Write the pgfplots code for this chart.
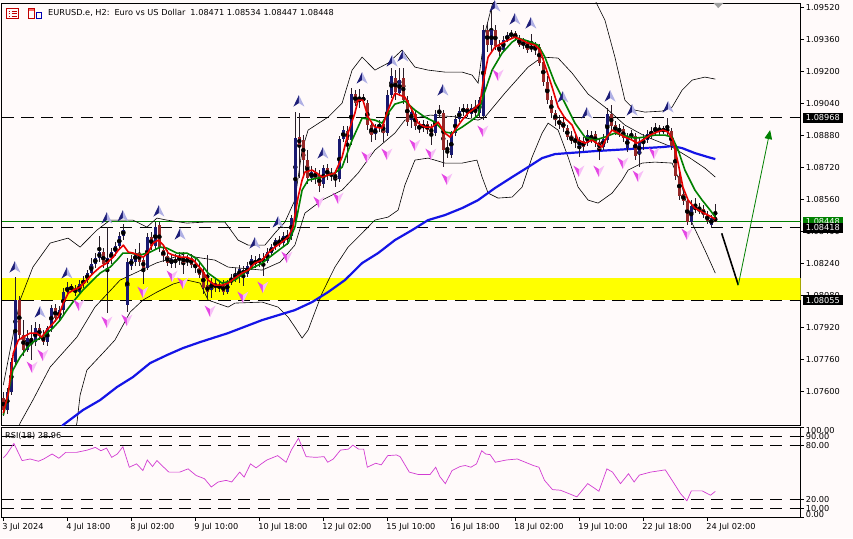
\documentclass[border=0pt]{standalone}
\usepackage{fontspec}
\setmainfont{DejaVu Sans}
\usepackage{pgfplots}
\usepackage{pgfplotstable}
\pgfplotsset{compat=1.18}
\usetikzlibrary{arrows.meta}

\definecolor{bg}{RGB}{255,250,250}
\definecolor{bullc}{RGB}{25,25,112}
\definecolor{bearc}{RGB}{150,40,40}
\definecolor{wickc}{RGB}{40,30,40}
\definecolor{mared}{RGB}{232,0,0}
\definecolor{magreen}{RGB}{0,128,0}
\definecolor{mablue}{RGB}{20,20,230}
\definecolor{rsic}{RGB}{210,60,210}
\definecolor{upL}{RGB}{30,30,120}
\definecolor{upR}{RGB}{175,175,228}
\definecolor{dnL}{RGB}{228,70,228}
\definecolor{dnR}{RGB}{247,190,247}
\definecolor{ylw}{RGB}{255,255,0}

\pgfdeclareplotmark{fup}{%
  \pgfpathmoveto{\pgfqpoint{0pt}{6pt}}\pgfpathlineto{\pgfqpoint{-5.5pt}{-5.5pt}}\pgfpathlineto{\pgfqpoint{0pt}{-2pt}}\pgfpathclose
  \pgfsetfillcolor{upL}\pgfusepath{fill}
  \pgfpathmoveto{\pgfqpoint{0pt}{6pt}}\pgfpathlineto{\pgfqpoint{5.5pt}{-5.5pt}}\pgfpathlineto{\pgfqpoint{0pt}{-2pt}}\pgfpathclose
  \pgfsetfillcolor{upR}\pgfusepath{fill}}
\pgfdeclareplotmark{fdn}{%
  \pgfpathmoveto{\pgfqpoint{0pt}{-6pt}}\pgfpathlineto{\pgfqpoint{-5.5pt}{5.5pt}}\pgfpathlineto{\pgfqpoint{0pt}{2pt}}\pgfpathclose
  \pgfsetfillcolor{dnL}\pgfusepath{fill}
  \pgfpathmoveto{\pgfqpoint{0pt}{-6pt}}\pgfpathlineto{\pgfqpoint{5.5pt}{5.5pt}}\pgfpathlineto{\pgfqpoint{0pt}{2pt}}\pgfpathclose
  \pgfsetfillcolor{dnR}\pgfusepath{fill}}

\pgfplotstableread{
i o h l c
0 1.07566 1.07596 1.07476 1.07506
1 1.07506 1.07616 1.07486 1.07596
2 1.07596 1.07766 1.07581 1.07746
3 1.07746 1.08171 1.07726 1.08056
4 1.08056 1.08076 1.07856 1.07881
5 1.07881 1.07956 1.07776 1.07806
6 1.07806 1.07906 1.07796 1.07866
7 1.07866 1.07931 1.07756 1.07846
8 1.07846 1.07946 1.07826 1.07916
9 1.07916 1.07936 1.07856 1.07876
10 1.07876 1.07906 1.07831 1.07846
11 1.07846 1.07926 1.07826 1.07916
12 1.07916 1.08031 1.07896 1.08016
13 1.08016 1.08036 1.07946 1.07966
14 1.07966 1.08026 1.07946 1.08006
15 1.08006 1.08116 1.07986 1.08096
16 1.08096 1.08146 1.08076 1.08121
17 1.08121 1.08136 1.08096 1.08111
18 1.08111 1.08131 1.08076 1.08096
19 1.08096 1.08156 1.08081 1.08136
20 1.08136 1.08176 1.08116 1.08156
21 1.08156 1.08206 1.08141 1.08191
22 1.08191 1.08266 1.08176 1.08236
23 1.08236 1.08291 1.08216 1.08266
24 1.08266 1.08376 1.08246 1.08296
25 1.08296 1.08316 1.08216 1.08236
26 1.08236 1.08421 1.07991 1.08266
27 1.08266 1.08316 1.08236 1.08296
28 1.08296 1.08346 1.08276 1.08326
29 1.08326 1.08396 1.08306 1.08376
30 1.08376 1.08436 1.08356 1.08406
31 1.08031 1.08266 1.07996 1.08246
32 1.08226 1.08281 1.08206 1.08261
33 1.08246 1.08311 1.08226 1.08291
34 1.08291 1.08341 1.08226 1.08246
35 1.08256 1.08276 1.08136 1.08216
36 1.08216 1.08391 1.08206 1.08371
37 1.08371 1.08396 1.08306 1.08326
38 1.08326 1.08446 1.08306 1.08421
39 1.08431 1.08446 1.08296 1.08316
40 1.08306 1.08326 1.08246 1.08276
41 1.08276 1.08306 1.08226 1.08241
42 1.08236 1.08286 1.08216 1.08261
43 1.08261 1.08286 1.08216 1.08241
44 1.08256 1.08296 1.08231 1.08271
45 1.08271 1.08296 1.08186 1.08241
46 1.08246 1.08281 1.08226 1.08266
47 1.08266 1.08286 1.08216 1.08231
48 1.08236 1.08266 1.08191 1.08216
49 1.08216 1.08246 1.08166 1.08181
50 1.08196 1.08226 1.08086 1.08116
51 1.08131 1.08281 1.08066 1.08096
52 1.08106 1.08166 1.08066 1.08146
53 1.08141 1.08161 1.08096 1.08116
54 1.08116 1.08151 1.08096 1.08131
55 1.08131 1.08156 1.08081 1.08096
56 1.08096 1.08156 1.08086 1.08146
57 1.08146 1.08186 1.08131 1.08161
58 1.08161 1.08216 1.08146 1.08186
59 1.08176 1.08231 1.08141 1.08211
60 1.08206 1.08226 1.08126 1.08186
61 1.08186 1.08246 1.08171 1.08226
62 1.08221 1.08281 1.08206 1.08261
63 1.08256 1.08276 1.08216 1.08236
64 1.08241 1.08286 1.08221 1.08266
65 1.08266 1.08291 1.08176 1.08246
66 1.08251 1.08316 1.08241 1.08296
67 1.08291 1.08336 1.08276 1.08321
68 1.08321 1.08366 1.08306 1.08356
69 1.08351 1.08376 1.08321 1.08336
70 1.08341 1.08396 1.08326 1.08376
71 1.08376 1.08406 1.08331 1.08366
72 1.08376 1.08481 1.08356 1.08466
73 1.08456 1.08996 1.08446 1.08866
74 1.08871 1.08991 1.08666 1.08831
75 1.08856 1.08881 1.08681 1.08756
76 1.08756 1.08806 1.08636 1.08666
77 1.08666 1.08726 1.08646 1.08696
78 1.08696 1.08716 1.08636 1.08666
79 1.08681 1.08706 1.08596 1.08626
80 1.08636 1.08731 1.08616 1.08716
81 1.08716 1.08736 1.08656 1.08676
82 1.08676 1.08716 1.08651 1.08691
83 1.08686 1.08706 1.08621 1.08661
84 1.08661 1.08876 1.08646 1.08861
85 1.08861 1.08926 1.08846 1.08906
86 1.08901 1.08926 1.08741 1.08856
87 1.08856 1.09116 1.08831 1.09086
88 1.09086 1.09106 1.09026 1.09041
89 1.09046 1.09111 1.09016 1.09066
90 1.09066 1.09086 1.09036 1.09056
91 1.09041 1.09056 1.08906 1.08931
92 1.08931 1.08946 1.08846 1.08881
93 1.08886 1.08936 1.08856 1.08916
94 1.08916 1.08956 1.08896 1.08936
95 1.08936 1.08956 1.08846 1.08891
96 1.08891 1.09106 1.08876 1.09081
97 1.09081 1.09216 1.09066 1.09176
98 1.09166 1.09206 1.09056 1.09096
99 1.09091 1.09216 1.09076 1.09156
100 1.09166 1.09216 1.09036 1.09056
101 1.09056 1.09076 1.08926 1.08946
102 1.08956 1.09026 1.08916 1.08996
103 1.08986 1.09006 1.08906 1.08926
104 1.08926 1.08951 1.08891 1.08911
105 1.08916 1.08956 1.08896 1.08936
106 1.08936 1.08951 1.08886 1.08906
107 1.08916 1.08936 1.08831 1.08891
108 1.08891 1.09006 1.08876 1.08986
109 1.08986 1.09031 1.08966 1.09006
110 1.08991 1.09006 1.08721 1.08806
111 1.08806 1.08856 1.08766 1.08791
112 1.08781 1.08901 1.08766 1.08891
113 1.08891 1.08981 1.08876 1.08961
114 1.08961 1.09021 1.08946 1.09001
115 1.08996 1.09036 1.08976 1.09016
116 1.09016 1.09036 1.08971 1.08986
117 1.08986 1.09036 1.08966 1.09016
118 1.09016 1.09056 1.08971 1.08991
119 1.08991 1.09071 1.08966 1.09056
120 1.08976 1.09431 1.08956 1.09406
121 1.09406 1.09446 1.09296 1.09331
122 1.09331 1.09516 1.09296 1.09406
123 1.09406 1.09431 1.09306 1.09326
124 1.09326 1.09356 1.09276 1.09296
125 1.09306 1.09376 1.09296 1.09356
126 1.09356 1.09396 1.09346 1.09381
127 1.09376 1.09406 1.09361 1.09391
128 1.09391 1.09401 1.09351 1.09366
129 1.09366 1.09381 1.09321 1.09331
130 1.09331 1.09366 1.09311 1.09346
131 1.09346 1.09356 1.09291 1.09306
132 1.09311 1.09386 1.09296 1.09326
133 1.09326 1.09346 1.09281 1.09316
134 1.09321 1.09336 1.09226 1.09241
135 1.09246 1.09266 1.09126 1.09146
136 1.09146 1.09176 1.09036 1.09056
137 1.09056 1.09076 1.08966 1.08991
138 1.08991 1.09006 1.08926 1.08956
139 1.08956 1.08981 1.08911 1.08931
140 1.08946 1.08966 1.08896 1.08916
141 1.08916 1.08931 1.08856 1.08871
142 1.08876 1.08901 1.08836 1.08851
143 1.08866 1.08886 1.08816 1.08841
144 1.08826 1.08871 1.08771 1.08856
145 1.08851 1.08871 1.08801 1.08821
146 1.08841 1.08906 1.08826 1.08881
147 1.08876 1.08901 1.08841 1.08861
148 1.08886 1.08901 1.08821 1.08841
149 1.08846 1.08866 1.08756 1.08811
150 1.08821 1.08886 1.08806 1.08861
151 1.08856 1.09016 1.08841 1.08986
152 1.08986 1.09031 1.08906 1.08926
153 1.08931 1.08951 1.08881 1.08896
154 1.08896 1.08936 1.08871 1.08916
155 1.08911 1.08926 1.08846 1.08866
156 1.08816 1.08891 1.08796 1.08871
157 1.08871 1.08906 1.08856 1.08881
158 1.08876 1.08891 1.08756 1.08776
159 1.08786 1.08866 1.08721 1.08846
160 1.08841 1.08886 1.08806 1.08861
161 1.08856 1.08906 1.08841 1.08886
162 1.08886 1.08921 1.08861 1.08896
163 1.08896 1.08941 1.08881 1.08916
164 1.08916 1.08931 1.08881 1.08901
165 1.08901 1.08926 1.08886 1.08911
166 1.08911 1.08966 1.08876 1.08901
167 1.08901 1.08916 1.08806 1.08826
168 1.08826 1.08841 1.08656 1.08676
169 1.08676 1.08696 1.08556 1.08576
170 1.08586 1.08616 1.08531 1.08551
171 1.08551 1.08571 1.08431 1.08446
172 1.08446 1.08556 1.08431 1.08526
173 1.08526 1.08566 1.08491 1.08506
174 1.08506 1.08541 1.08486 1.08511
175 1.08511 1.08531 1.08466 1.08481
176 1.08481 1.08501 1.08436 1.08451
177 1.08431 1.08481 1.08416 1.08466
178 1.08471 1.08534 1.08447 1.08448
}\candles

\pgfplotsset{
  mt/.style={
    scale only axis, width=799pt,
    xmin=-0.4, xmax=199.35,
    axis line style={black, line width=0.8pt},
    tick style={black, line width=0.6pt},
    tick align=outside, major tick length=3.5pt,
    ytick pos=right, yticklabel pos=right,
    tick label style={font=\fontsize{8.2}{9.8}\selectfont, text=black},
    yticklabel style={anchor=west, inner sep=0pt, xshift=1.5pt},
    clip mode=individual,
  },
  hl/.style={black, line width=0.8pt, dash pattern=on 12.3pt off 7.4pt},
}

\begin{document}
\begin{tikzpicture}[x=1pt, y=1pt, font=\fontsize{8.2}{9.8}\selectfont]
\fill[bg] (0,0) rectangle (853,538);
\path[use as bounding box] (0,0) rectangle (853,538);

% header icons
\draw[red!75!black, line width=0.7pt] (6.5,519.5) rectangle (18.5,529.5);
\foreach \yy in {522,524.5,527} {\draw[red!75!black, line width=0.6pt] (8.5,\yy) -- (10,\yy); \draw[red!75!black, line width=0.6pt] (11.5,\yy) -- (16.5,\yy);}
\draw[red!75!black, line width=0.7pt] (28.5,519.5) rectangle (34.5,529.5);
\draw[blue!70!black, line width=0.7pt] (36,519.5) rectangle (41.5,526);
\fill[red!60] (29.3,527) rectangle (33.7,528.8);
\node[anchor=west, inner sep=0pt] at (48,525) {EURUSD.e, H2:\hspace{0.6em}Euro vs US Dollar\hspace{0.6em}1.08471 1.08534 1.08447 1.08448};

% ---------------- main price panel ----------------
\begin{scope}[shift={(1.7,113)}]
\begin{axis}[mt, at={(0,0)}, anchor=south west, height=422pt,
  ymin=1.074315, ymax=1.095415,
  xtick=\empty,
  ytick={1.076,1.0776,1.0792,1.0808,1.0824,1.084,1.0856,1.0872,1.0888,1.0904,1.092,1.0936,1.0952},
  yticklabels={1.07600,1.07760,1.07920,1.08080,1.08240,1.08400,1.08560,1.08720,1.08880,1.09040,1.09200,1.09360,1.09520},
]
% support zone
\addplot[fill=ylw, draw=none] coordinates {(-0.4,1.08055) (199.35,1.08055) (199.35,1.08168) (-0.4,1.08168)} -- cycle;
% horizontal levels
\addplot[hl] coordinates {(-0.4,1.08968) (199.35,1.08968)};
\addplot[hl] coordinates {(-0.4,1.08418) (199.35,1.08418)};
\addplot[hl] coordinates {(-0.4,1.08055) (199.35,1.08055)};
\addplot[magreen, line width=0.8pt] coordinates {(-0.4,1.08448) (199.35,1.08448)};

% Bollinger bands
\addplot[black, line width=0.6pt] coordinates {(0,1.07631) (1.7,1.07806) (4.2,1.08056) (7.4,1.08221) (11.7,1.08341) (16.2,1.08366) (19.2,1.08321) (23.4,1.08406) (26.7,1.08456) (32.4,1.08456) (35.9,1.08421) (38.4,1.08466) (40.9,1.08456) (45.9,1.08441) (50.4,1.08446) (55.4,1.08446) (58.7,1.08356) (61.2,1.08331) (65.4,1.08331) (67.9,1.08391) (70.4,1.08446) (72.9,1.08556) (74.7,1.08806) (76.2,1.08906) (81.2,1.08971) (84.7,1.09041) (87.2,1.09206) (89.7,1.09271) (92.9,1.09206) (96.2,1.09241) (99.7,1.09306) (101.2,1.09266) (102.9,1.09221) (106.2,1.09206) (110.4,1.09196) (114.7,1.09196) (117.2,1.09181) (118.7,1.09141) (120.4,1.09391) (122.2,1.09531) (125.4,1.09656) (134.2,1.09756) (142.9,1.09706) (147.9,1.09556) (150.4,1.09456) (152.9,1.09271) (155.4,1.09056) (157.9,1.09006) (160.4,1.08996) (164.7,1.09001) (167.2,1.09021) (169.7,1.09106) (172.2,1.09156) (175.4,1.09171) (178,1.09161)};
\addplot[black, line width=0.6pt] coordinates {(3,1.07360) (4.2,1.07441) (7.4,1.07556) (11.7,1.07721) (18.4,1.07871) (22.9,1.08021) (29.2,1.08156) (35,1.08211) (38.2,1.08241) (45.9,1.08291) (48,1.08271) (52.9,1.08256) (56.2,1.08221) (64.7,1.08206) (69.2,1.08246) (72.9,1.08331) (75.4,1.08491) (79.7,1.08556) (84.7,1.08606) (88.7,1.08691) (92.9,1.08806) (97.9,1.08891) (100.4,1.08956) (106.7,1.08981) (114.2,1.08971) (118.7,1.08956) (120.4,1.08971) (125.4,1.09091) (131.2,1.09221) (134.7,1.09271) (138.7,1.09266) (142.2,1.09191) (146.2,1.09086) (150.4,1.09021) (155.4,1.08931) (160.4,1.08876) (167.2,1.08821) (171.7,1.08766) (175.4,1.08716) (178,1.08671)};
\addplot[black, line width=0.6pt] coordinates {(17.2,1.07356) (18.4,1.07441) (19.2,1.07581) (20.9,1.07706) (24.9,1.07791) (27.9,1.07856) (31.7,1.07996) (34.9,1.08056) (38.4,1.08096) (42.4,1.08136) (45.9,1.08156) (49.2,1.08141) (51.2,1.08056) (56.2,1.08021) (57.9,1.08041) (64.7,1.08046) (68.7,1.08021) (71.2,1.07971) (72.9,1.07921) (74.7,1.07866) (76.2,1.07906) (79.7,1.08091) (82.9,1.08221) (86.2,1.08321) (89.7,1.08391) (92.9,1.08456) (96.2,1.08471) (98.7,1.08506) (100.4,1.08631) (102.9,1.08756) (106.2,1.08766) (110.4,1.08741) (114.7,1.08741) (118.4,1.08756) (119.7,1.08671) (121.2,1.08591) (123.7,1.08566) (127.2,1.08571) (129.7,1.08621) (132.2,1.08771) (134.7,1.08891) (136.2,1.08941) (138.7,1.08906) (141.2,1.08771) (143.7,1.08621) (146.2,1.08556) (148.7,1.08541) (152.2,1.08591) (154.7,1.08656) (156.2,1.08706) (159.7,1.08741) (162.9,1.08746) (167.2,1.08741) (169.7,1.08621) (172.2,1.08441) (175.4,1.08306) (178,1.08191)};

% long moving average
\addplot[mablue, line width=2.2pt] coordinates {(13,1.07350) (14.9,1.07431) (19.9,1.07506) (24.2,1.07556) (28.4,1.07621) (32.4,1.07671) (36.7,1.07741) (40.9,1.07781) (44.9,1.07816) (49.2,1.07846) (56.2,1.07891) (64.7,1.07956) (72.9,1.08006) (77.2,1.08046) (81.2,1.08096) (85.4,1.08156) (89.7,1.08241) (93.7,1.08291) (97.9,1.08356) (102.2,1.08406) (106.2,1.08456) (110.4,1.08481) (114.7,1.08516) (118.7,1.08556) (122.9,1.08616) (127.2,1.08671) (131.2,1.08721) (134.7,1.08766) (137.9,1.08786) (141.2,1.08791) (144.7,1.08796) (147.9,1.08801) (152.2,1.08806) (156.2,1.08811) (160.4,1.08816) (164.7,1.08821) (167.2,1.08826) (169.7,1.08816) (172.9,1.08791) (176.2,1.08771) (178,1.08761)};

% candles: wicks
\addplot[only marks, mark=none, error bars/.cd, y dir=both, y explicit, error mark=none,
  error bar style={draw=wickc, line width=0.8pt}]
  table[x=i, y expr={0.5*(\thisrow{h}+\thisrow{l})}, y error expr={0.5*(\thisrow{h}-\thisrow{l})}] {\candles};
% bull bodies
\addplot[only marks, mark=none, error bars/.cd, y dir=both, y explicit, error mark=none,
  error bar style={draw=bullc, line width=2.8pt}]
  table[x=i, y expr={\thisrow{c}>=\thisrow{o} ? 0.5*(\thisrow{o}+\thisrow{c}) : nan}, y error expr={max(0.5*abs(\thisrow{c}-\thisrow{o}),0.000012)}] {\candles};
% bear bodies
\addplot[only marks, mark=none, error bars/.cd, y dir=both, y explicit, error mark=none,
  error bar style={draw=bearc, line width=2.8pt}]
  table[x=i, y expr={\thisrow{c}<\thisrow{o} ? 0.5*(\thisrow{o}+\thisrow{c}) : nan}, y error expr={max(0.5*abs(\thisrow{c}-\thisrow{o}),0.000012)}] {\candles};

% fast moving averages
\addplot[magreen, line width=1.6pt, line join=round] coordinates {(0,1.07480) (0.9,1.07556) (2.4,1.07706) (4.2,1.07771) (5.9,1.07816) (7.4,1.07846) (9.2,1.07866) (10.9,1.07891) (12.4,1.07916) (14.2,1.07956) (15.9,1.08006) (17.4,1.08046) (19.9,1.08106) (22.4,1.08156) (24.2,1.08191) (26.7,1.08221) (28.4,1.08256) (29.9,1.08291) (31.7,1.08291) (34.2,1.08281) (36.7,1.08296) (39.2,1.08321) (40.9,1.08316) (43.4,1.08291) (45.9,1.08291) (48.5,1.08261) (51.2,1.08191) (54.7,1.08141) (57.9,1.08156) (61.2,1.08206) (64.7,1.08241) (67.9,1.08291) (71.2,1.08341) (72.9,1.08421) (74.7,1.08606) (76.2,1.08656) (79.7,1.08671) (82.9,1.08691) (84.7,1.08721) (87.2,1.08856) (89.7,1.08966) (92.9,1.08956) (94.7,1.08941) (96.2,1.08991) (97.9,1.09036) (100.4,1.09051) (102.9,1.09006) (105.4,1.08971) (107.9,1.08946) (110.4,1.08896) (112.2,1.08891) (114.7,1.08921) (117.2,1.08956) (118.7,1.08981) (119.9,1.09071) (122.2,1.09206) (124.7,1.09291) (127.2,1.09346) (128.7,1.09366) (131.2,1.09351) (133.7,1.09331) (135.4,1.09271) (137.9,1.09141) (140.4,1.09041) (142.9,1.08941) (145.4,1.08871) (147.9,1.08856) (150.4,1.08871) (152.9,1.08891) (154.7,1.08881) (157.9,1.08866) (160.4,1.08871) (162.9,1.08881) (165.4,1.08881) (167.2,1.08871) (168.7,1.08806) (170.4,1.08706) (172.9,1.08606) (174.7,1.08556) (176.7,1.08506) (178,1.08471)};
\addplot[mared, line width=1.6pt, line join=round] coordinates {(0,1.07491) (1.25,1.07591) (2.5,1.07791) (3.75,1.07856) (5,1.07871) (6.7,1.07891) (8.35,1.07891) (9.6,1.07871) (10.85,1.07906) (12.5,1.07941) (13.75,1.07971) (15,1.08041) (16.25,1.08091) (17.5,1.08106) (19.2,1.08121) (20.85,1.08156) (22.5,1.08191) (24.2,1.08221) (25.85,1.08241) (27.5,1.08271) (28.75,1.08306) (30,1.08331) (31.25,1.08296) (32.5,1.08291) (33.75,1.08281) (35,1.08271) (36.25,1.08296) (37.5,1.08341) (38.75,1.08356) (40,1.08331) (41.25,1.08291) (42.5,1.08281) (44.2,1.08271) (45.85,1.08271) (47.5,1.08256) (49.7,1.08206) (51.2,1.08156) (52.9,1.08131) (54.7,1.08131) (56.2,1.08141) (57.9,1.08166) (59.7,1.08191) (61.2,1.08206) (62.9,1.08241) (64.7,1.08256) (66.2,1.08291) (67.9,1.08321) (69.7,1.08346) (71.2,1.08371) (72.4,1.08421) (73.7,1.08571) (74.7,1.08656) (75.4,1.08696) (77.2,1.08706) (78.4,1.08691) (79.7,1.08671) (81.2,1.08681) (82.9,1.08691) (84.7,1.08771) (86.2,1.08891) (87.9,1.08991) (88.7,1.09056) (89.9,1.09056) (91.2,1.08971) (92.9,1.08921) (94.7,1.08916) (95.9,1.08991) (97.2,1.09056) (97.9,1.09091) (100.4,1.09071) (102.2,1.09006) (103.7,1.08941) (105.4,1.08921) (107.2,1.08921) (108.7,1.08946) (110.4,1.08891) (111.7,1.08871) (112.9,1.08906) (114.7,1.08956) (116.2,1.08991) (117.9,1.09016) (119.2,1.09041) (119.9,1.09141) (121.2,1.09271) (122.9,1.09321) (124.7,1.09341) (126.2,1.09356) (127.9,1.09371) (129.7,1.09356) (131.2,1.09341) (132.9,1.09331) (134.2,1.09306) (135.4,1.09231) (137.2,1.09121) (138.7,1.09021) (140.4,1.08966) (142.2,1.08931) (143.7,1.08856) (145.4,1.08841) (147.2,1.08856) (149.7,1.08821) (150.9,1.08871) (152.2,1.08906) (153.7,1.08891) (155.4,1.08871) (157.2,1.08856) (158.4,1.08841) (159.9,1.08856) (161.7,1.08881) (163.4,1.08896) (164.9,1.08906) (166.2,1.08896) (167.4,1.08856) (168.7,1.08741) (169.9,1.08621) (171.2,1.08556) (172.9,1.08516) (174.7,1.08496) (176.2,1.08481) (178,1.08461)};

% fractals
\addplot[only marks, mark=fup] coordinates {(2.9,1.08221) (9.2,1.07996) (15.9,1.08191) (25.9,1.08466) (29.9,1.08476) (38.9,1.08501) (44.2,1.08386) (62.9,1.08341) (68.7,1.08446) (73.9,1.09051) (79.9,1.08791) (89.7,1.09166) (97.2,1.09251) (99.9,1.09276) (109.9,1.09106) (122.9,1.09526) (127.9,1.09461) (131.9,1.09441) (139.9,1.09071) (145.9,1.08991) (151.7,1.09076) (157.2,1.09006) (166.2,1.09021)};
\addplot[only marks, mark=fdn] coordinates {(7.2,1.07721) (9.9,1.07781) (18.9,1.08031) (25.9,1.07946) (30.9,1.07956) (34.9,1.08096) (42.2,1.08176) (44.9,1.08141) (51.7,1.08001) (59.9,1.08071) (64.9,1.08121) (70.9,1.08271) (78.9,1.08546) (83.7,1.08566) (90.9,1.08771) (95.9,1.08786) (102.9,1.08831) (106.9,1.08786) (110.9,1.08661) (119.9,1.08901) (123.7,1.09181) (143.9,1.08701) (148.9,1.08701) (154.9,1.08741) (158.7,1.08676) (162.7,1.08791) (170.9,1.08386)};

% drawn projection
\addplot[black, line width=1.6pt] coordinates {(179.6,1.08390) (183.75,1.08131)};
\addplot[magreen, line width=0.8pt, -{Triangle[length=9pt, width=7.5pt]}] coordinates {(183.75,1.08131) (191.7,1.08906)};

% shift marker
\fill[gray!75] (axis cs:177.5,1.095415) -- (axis cs:180,1.095415) -- (axis cs:178.75,1.09516) -- cycle;

% price labels
\node[fill=black, text=white, inner sep=0pt, minimum width=40pt, minimum height=10pt, anchor=west] at (axis cs:199.35,1.08968) [xshift=2pt] {1.08968};
\node[fill=magreen, text=white, inner sep=0pt, minimum width=40pt, minimum height=10pt, anchor=west] at (axis cs:199.35,1.08448) [xshift=2pt] {1.08448};
\node[fill=black, text=white, inner sep=0pt, minimum width=40pt, minimum height=10pt, anchor=west] at (axis cs:199.35,1.08418) [xshift=2pt] {1.08418};
\node[fill=black, text=white, inner sep=0pt, minimum width=40pt, minimum height=10pt, anchor=west] at (axis cs:199.35,1.08055) [xshift=2pt] {1.08055};
\end{axis}
\end{scope}

% ---------------- RSI panel ----------------
\begin{scope}[shift={(1.7,20.4)}]
\begin{axis}[mt, at={(0,0)}, anchor=south west, height=90.6pt,
  ymin=0, ymax=100,
  ytick={0,10,20,80,90,100},
  yticklabels={\raisebox{3.5pt}[\height][\depth]{0.00},10.00,20.00,80.00,90.00,\raisebox{-3.5pt}[\height][\depth]{100.00}},
  xtick={0,16,32,48,64,80,96,112,128,144,160,176},
  xticklabels={3 Jul 2024,4 Jul 18:00,8 Jul 02:00,9 Jul 10:00,10 Jul 18:00,12 Jul 02:00,15 Jul 10:00,16 Jul 18:00,18 Jul 02:00,19 Jul 10:00,22 Jul 18:00,24 Jul 02:00},
  xtick pos=bottom, xticklabel pos=bottom,
  xticklabel style={anchor=north west, inner sep=0pt, xshift=-1.2pt, yshift=-1.5pt},
]
\addplot[hl] coordinates {(-0.4,90) (199.35,90)};
\addplot[hl] coordinates {(-0.4,80) (199.35,80)};
\addplot[hl] coordinates {(-0.4,20) (199.35,20)};
\addplot[hl] coordinates {(-0.4,10) (199.35,10)};
\addplot[rsic, line width=0.7pt] coordinates {(0,65.8) (0.9,70.2) (2.65,81.8) (4.7,62.9) (6.7,64.7) (8.8,62.2) (10.1,64.7) (12.2,70.2) (13.9,65.5) (15.6,72) (18.3,72) (21,74.5) (23,77.5) (24.4,73.8) (25.8,76.7) (27.1,66.5) (28.5,70.2) (29.9,78.2) (31.5,55.6) (33.3,59.3) (34.9,52) (36,63.6) (37.3,56.4) (38.4,62.9) (40.1,55.6) (41.4,50.2) (44.1,50.2) (46.2,53.8) (48.2,46.5) (50.3,42.9) (52,33.8) (53.7,39.3) (55.7,41.1) (57.1,39.3) (59.1,50.2) (60.2,44.7) (61.8,59.3) (63.2,54.9) (64.5,59.3) (65.9,63.6) (68.6,68.4) (70.7,61.1) (72,74.5) (73.8,87.6) (75.7,67.3) (78.1,66.5) (80.2,67.3) (81.1,61.1) (82.5,64.7) (84.3,74.5) (86.3,75.6) (87.4,80) (88.8,75.6) (90.1,75.6) (91,55.6) (93.1,60) (94.5,58.2) (96.1,68.4) (98.3,69.1) (99.2,67.3) (101.5,50.2) (103.7,47.6) (106.7,47.6) (108.1,55.6) (109.1,45.5) (110.5,37.5) (112.2,52) (114.2,56.4) (115.5,57.5) (116.9,55.6) (118.3,59.3) (119.6,73.8) (120.6,70.2) (121.7,69.5) (123,61.1) (125.8,63.6) (128.5,64.7) (132.5,57.5) (133.9,55.6) (135.3,41.1) (137.3,30.9) (139.3,30.2) (143.4,22.9) (146.1,37.5) (148.9,29.1) (150.9,53.8) (152.3,50.2) (154.3,37.5) (156.3,48.4) (157.7,39.3) (159,46.9) (161.8,50.2) (164.5,52) (165.5,52.7) (167.2,41.1) (169.3,26.5) (170.9,18.5) (172,29.5) (174.7,29.5) (176.8,24.7) (178,28.96)};
\node[anchor=west, inner sep=0pt] at (rel axis cs:0.004,0.9) {RSI(18) 28.96};
\end{axis}
\end{scope}
\end{tikzpicture}
\end{document}
